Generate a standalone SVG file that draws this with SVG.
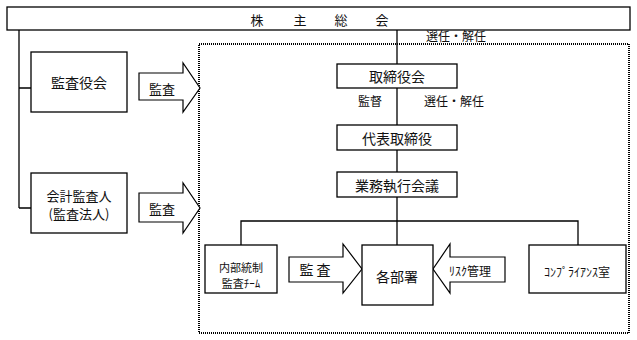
<svg xmlns="http://www.w3.org/2000/svg" width="637" height="340" viewBox="0 0 637 340">
<style>
.box{fill:#fff;stroke:#000;stroke-width:1.3}
.ln{fill:none;stroke:#000;stroke-width:1.3}
.arr{fill:#fff;stroke:#000;stroke-width:1.2;stroke-linejoin:miter}
.dot{fill:none;stroke:#000;stroke-width:1.2;stroke-dasharray:1 1;shape-rendering:crispEdges}
text{font-family:"Noto Sans CJK JP","Noto Sans",sans-serif;fill:#111;text-anchor:middle;dominant-baseline:central}
.t14{font-size:14px}
.t13{font-size:13px}
.t12{font-size:12px}
.t11{font-size:11px}
</style>
<rect class="dot" x="199" y="44" width="430" height="289"/>
<g id="connectors">
<path class="ln" d="M397 30 V245 M241 245 V221 H578 V245"/>
<path class="ln" d="M19 30 V208 M19 88 H31 M19 208 H31"/>
<polygon class="arr" points="139,73 183,73 183,63 200,88 183,112 183,100 139,100"/>
<polygon class="arr" points="139,193 183,193 183,183 200,208 183,233 183,222 139,222"/>
<polygon class="arr" points="289,257 343,257 343,244 362,269 343,293 343,282 289,282"/>
<polygon class="arr" points="505,257 450,257 450,244 433,269 450,293 450,282 505,282"/>
<text class="t13" x="162" y="88">監査</text>
<text class="t13" x="162" y="208">監査</text>
<text class="t14" x="315" y="269">監 査</text>
<text class="t12" x="470" y="270">ﾘｽｸ管理</text>
<text class="t12" x="456" y="35">選任・解任</text>
<text class="t12" x="454" y="100">選任・解任</text>
<text class="t12" x="370" y="100">監督</text>
</g>
<g id="n-shareholders">
<rect class="box" x="7" y="7" width="623" height="23"/>
<text class="t13" x="257 300 341 382" y="19">株主総会</text>
</g>
<g id="n-auditboard">
<rect class="box" x="31" y="52" width="96" height="60"/>
<text class="t14" x="79" y="82">監査役会</text>
</g>
<g id="n-accountant">
<rect class="box" x="31" y="173" width="96" height="60"/>
<text class="t13" x="79" y="195">会計監査人</text>
<text class="t13" x="79" y="213">(監査法人)</text>
</g>
<g id="n-board">
<rect class="box" x="337" y="64" width="120" height="24"/>
<text class="t14" x="397" y="76">取締役会</text>
</g>
<g id="n-rep">
<rect class="box" x="337" y="125" width="120" height="25"/>
<text class="t14" x="397" y="137.5">代表取締役</text>
</g>
<g id="n-exec">
<rect class="box" x="337" y="172" width="120" height="25"/>
<text class="t14" x="397" y="184.5">業務執行会議</text>
</g>
<g id="n-internal">
<rect class="box" x="205" y="245" width="72" height="48"/>
<text class="t11" x="241" y="267">内部統制</text>
<text class="t11" x="241" y="283">監査ﾁｰﾑ</text>
</g>
<g id="n-depts">
<rect class="box" x="362" y="245" width="71" height="60"/>
<text class="t14" x="397" y="276">各部署</text>
</g>
<g id="n-compliance">
<rect class="box" x="529" y="245" width="97" height="48"/>
<text class="t12" x="577" y="271">ｺﾝﾌﾟﾗｲｱﾝｽ室</text>
</g>
</svg>
